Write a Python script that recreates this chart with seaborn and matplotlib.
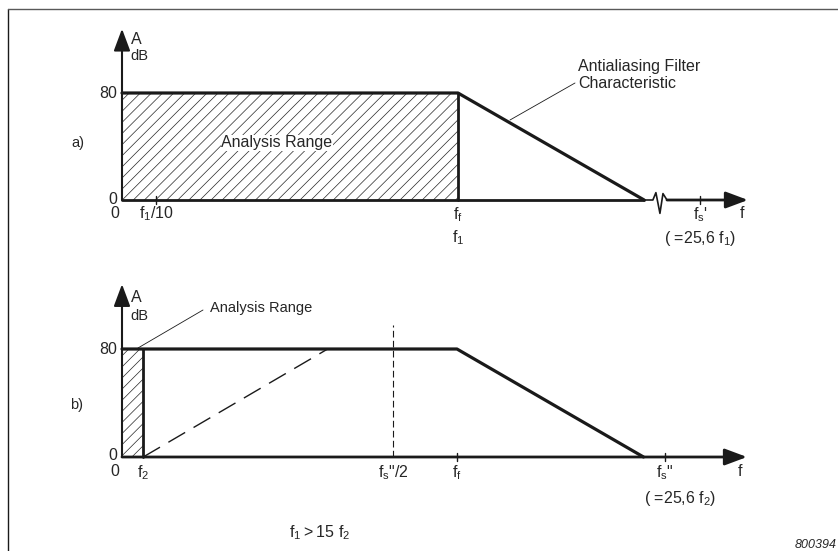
import matplotlib
matplotlib.use("Agg")
import matplotlib.pyplot as plt
import seaborn as sns

# panel a) values, frequency in units of f1
filter_a_f = [0.0, 1.0, 1.554]
filter_a_db = [80, 80, 0]
range_a = [0.0, 1.0]
break_a_f = [1.554, 1.580, 1.589, 1.601, 1.610, 1.622]
break_a_db = [0, 0, 5.5, -10.0, 4.8, 0]
ticks_a = [0.1, 1.72]
fs_a = 1.72
axis_end_a = 1.863

# panel b) values, frequency in units of f2
filter_b_f = [0.0, 15.8, 24.6]
filter_b_db = [80, 80, 0]
range_b = [0.0, 1.0]
alias_f = [1.0, 9.7]
alias_db = [0, 80]
nyquist_b = 12.8
fs_b = 25.6
ticks_b = [15.8, 25.6]
axis_end_b = 29.48
y_top = 128

W, H = 838, 551

sns.set_theme(style="white")
plt.rcParams["font.family"] = ["Liberation Sans", "DejaVu Sans"]
plt.rcParams["mathtext.default"] = "regular"
plt.rcParams["hatch.linewidth"] = 0.5

fig = plt.figure(figsize=(8.38, 5.51), dpi=100)

# frame
fig.add_artist(plt.Line2D([8 / W, 8 / W], [0, 1 - 9 / H], color="k", lw=1.0))
fig.add_artist(plt.Line2D([8 / W, 1], [1 - 9 / H, 1 - 9 / H], color="0.35", lw=1.0))


def make_panel(x0, ppx, y0, ppy, top, bot):
    ax = fig.add_axes([0, 1 - bot / H, 1, (bot - top) / H])
    ax.set_xlim(-x0 / ppx, (W - x0) / ppx)
    ax.set_ylim((y0 - bot) / ppy, (y0 - top) / ppy)
    ax.axis("off")

    def p(px, py):
        return (px - x0) / ppx, (y0 - py) / ppy
    return ax, p


def arrow(ax, start, end, lw):
    ax.annotate("", xy=end, xytext=start,
                arrowprops=dict(arrowstyle="-|>,head_length=0.75,head_width=0.28",
                                mutation_scale=18, lw=lw, color="k",
                                shrinkA=0, shrinkB=0))


fs = 10.5

# ---------------- panel a
ax, p = make_panel(122, 336, 200, 107 / 80, 0, 270)
ax.fill_between(range_a, 0, 80, facecolor="none", edgecolor="0.15", hatch="///", linewidth=0)
ax.plot([range_a[1], range_a[1]], [0, 80], color="k", lw=2.0)
sns.lineplot(x=filter_a_f, y=filter_a_db, ax=ax, color="k", lw=2.3, estimator=None)
ax.plot([0, filter_a_f[-1]], [0, 0], color="k", lw=2.0)
ax.plot(break_a_f, break_a_db, color="k", lw=1.2)
arrow(ax, (break_a_f[-1], 0), (axis_end_a, 0), 2.0)
arrow(ax, (0, 0), (0, y_top), 1.5)
for t in ticks_a:
    ax.plot([t, t], [p(0, 196)[1], p(0, 204)[1]], color="k", lw=1.0)

ax.text(*p(117, 93), "80", ha="right", va="center", fontsize=fs + 1)
ax.text(*p(117, 199), "0", ha="right", va="center", fontsize=fs + 1)
ax.text(*p(131, 39), "A", ha="left", va="center", fontsize=fs + 1)
ax.text(*p(130, 56), "dB", ha="left", va="center", fontsize=fs)
ax.text(*p(78, 143), "a)", ha="center", va="center", fontsize=fs)
ax.text(*p(277, 143), "Analysis Range", ha="center", va="center", fontsize=fs + 1,
        bbox=dict(facecolor="white", edgecolor="none", pad=0.5))
ax.text(*p(115, 214), "0", ha="center", va="center", fontsize=fs + 1)
ax.text(ticks_a[0] + 0.003, p(0, 214)[1], "f$_1$/10", ha="center", va="center", fontsize=fs + 1)
ax.text(range_a[1], p(0, 215)[1], "f$_f$", ha="center", va="center", fontsize=fs + 1)
ax.text(range_a[1], p(0, 238)[1], "f$_1$", ha="center", va="center", fontsize=fs + 1)
ax.text(fs_a, p(0, 215)[1], "f$_s$'", ha="center", va="center", fontsize=fs + 1)
ax.text(*p(742, 213), "f", ha="center", va="center", fontsize=fs + 1)
ax.text(*p(700, 239), "( =25,6 f$_1$)", ha="center", va="center", fontsize=fs + 1)
ax.text(*p(578, 67), "Antialiasing Filter", ha="left", va="center", fontsize=fs + 1)
ax.text(*p(578, 84), "Characteristic", ha="left", va="center", fontsize=fs + 1)
lx, ly = zip(p(575, 83), p(510, 120))
ax.plot(lx, ly, color="k", lw=0.6)

# ---------------- panel b
ax, p = make_panel(122, 21.2, 457, 108 / 80, 270, 551)
ax.fill_between(range_b, 0, 80, facecolor="none", edgecolor="0.15", hatch="///", linewidth=0)
ax.plot([range_b[1], range_b[1]], [0, 80], color="k", lw=2.0)
sns.lineplot(x=filter_b_f, y=filter_b_db, ax=ax, color="k", lw=2.3, estimator=None)
ax.plot(alias_f, alias_db, color="k", lw=1.0, dashes=(14, 7))
ax.plot([nyquist_b, nyquist_b], [0, p(0, 325)[1]], color="k", lw=0.8, dashes=(6, 3))
arrow(ax, (0, 0), (axis_end_b, 0), 2.0)
arrow(ax, (0, 0), (0, y_top), 1.5)
for t in ticks_b:
    ax.plot([t, t], [p(0, 453)[1], p(0, 461)[1]], color="k", lw=1.0)

ax.text(*p(117, 349), "80", ha="right", va="center", fontsize=fs + 1)
ax.text(*p(117, 456), "0", ha="right", va="center", fontsize=fs + 1)
ax.text(*p(131, 298), "A", ha="left", va="center", fontsize=fs + 1)
ax.text(*p(130, 316), "dB", ha="left", va="center", fontsize=fs)
ax.text(*p(77, 405), "b)", ha="center", va="center", fontsize=fs)
ax.text(*p(210, 308), "Analysis Range", ha="left", va="center", fontsize=fs)
lx, ly = zip(p(203, 310), p(138, 348))
ax.plot(lx, ly, color="k", lw=0.6)
ax.text(*p(115, 472), "0", ha="center", va="center", fontsize=fs + 1)
ax.text(range_b[1], p(0, 473)[1], "f$_2$", ha="center", va="center", fontsize=fs + 1)
ax.text(nyquist_b, p(0, 473)[1], "f$_s$\"/2", ha="center", va="center", fontsize=fs + 1)
ax.text(ticks_b[0], p(0, 473)[1], "f$_f$", ha="center", va="center", fontsize=fs + 1)
ax.text(fs_b, p(0, 473)[1], "f$_s$\"", ha="center", va="center", fontsize=fs + 1)
ax.text(*p(740, 472), "f", ha="center", va="center", fontsize=fs + 1)
ax.text(*p(680, 499), "( =25,6 f$_2$)", ha="center", va="center", fontsize=fs + 1)
ax.text(*p(320, 533), "f$_1$$>$15 f$_2$", ha="center", va="center", fontsize=fs + 1)
ax.text(*p(837, 545), "800394", ha="right", va="center", fontsize=fs - 1.5, style="italic")

fig.savefig("out.png", dpi=100)
